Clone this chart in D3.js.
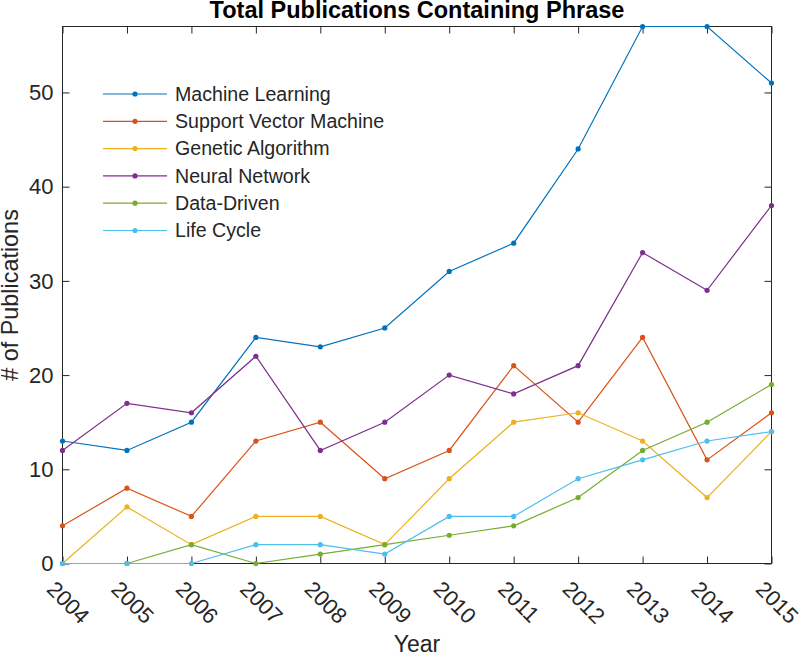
<!DOCTYPE html>
<html><head><meta charset="utf-8">
<script src="https://cdn.jsdelivr.net/npm/d3@7"></script>
<style>body{margin:0;background:#fff}svg{display:block}text{font-family:"Liberation Sans",Arial,Helvetica,sans-serif;fill:#262626}</style>
</head><body><svg id="c" width="800" height="655"></svg>
<script>
const years = [2004,2005,2006,2007,2008,2009,2010,2011,2012,2013,2014,2015];
const seriesNames = ["Machine Learning","Support Vector Machine","Genetic Algorithm","Neural Network","Data-Driven","Life Cycle"];
const machineLearning = [13,12,15,24,23,25,31,34,44,57,57,51];
const supportVector = [4,8,5,13,15,9,12,21,15,24,11,16];
const geneticAlgorithm = [0,6,2,5,5,2,9,15,16,13,7,14];
const neuralNetwork = [12,17,16,22,12,15,20,18,21,33,29,38];
const dataDriven = [0,0,2,0,1,2,3,4,7,12,15,19];
const lifeCycle = [0,0,0,2,2,1,5,5,9,11,13,14];
const yTicks = [0,10,20,30,40,50];
const colors = ["#0072BD","#D95319","#EDB120","#7E2F8E","#77AC30","#4DBEEE"];
const allSeries = [machineLearning,supportVector,geneticAlgorithm,neuralNetwork,dataDriven,lifeCycle];

const svg = d3.select("#c");
const L=62.5,R=771.5,T=26.5,B=563.5;
const x = d3.scaleLinear().domain([2004,2015]).range([L,R]);
const y = d3.scaleLinear().domain([0,57]).range([B,T]);
const ax="#262626";

svg.append("rect").attr("x",L).attr("y",T).attr("width",R-L).attr("height",B-T).attr("fill","none").attr("stroke",ax).attr("stroke-width",1);

const tl=7;
const xa = d3.axisBottom(x).tickValues(years).tickSize(-tl).tickFormat("");
const xt = d3.axisTop(x).tickValues(years).tickSize(-tl).tickFormat("");
const ya = d3.axisLeft(y).tickValues(yTicks).tickSize(-tl).tickFormat("");
const yr = d3.axisRight(y).tickValues(yTicks).tickSize(-tl).tickFormat("");
[[xa,`translate(0,${B})`],[xt,`translate(0,${T})`],[ya,`translate(${L},0)`],[yr,`translate(${R},0)`]].forEach(([a,t])=>{
  const g=svg.append("g").attr("transform",t).call(a);
  g.select(".domain").remove();
  g.selectAll("line").attr("stroke",ax);
});

svg.append("g").selectAll("text").data(yTicks).join("text")
  .attr("x",L-9).attr("y",d=>y(d)).attr("dy","0.35em").attr("text-anchor","end")
  .attr("font-size",22).text(d=>d);

svg.append("g").selectAll("text").data(years).join("text")
  .attr("transform",d=>`translate(${x(d)-17},${B+27}) rotate(45)`)
  .attr("font-size",22).text(d=>d);

svg.append("text").attr("x",(L+R)/2).attr("y",18).attr("text-anchor","middle").attr("font-size",23.5).attr("font-weight","bold").style("fill","#000").text("Total Publications Containing Phrase");
svg.append("text").attr("x",(L+R)/2).attr("y",652).attr("text-anchor","middle").attr("font-size",23).text("Year");
svg.append("text").attr("transform",`translate(18,${(T+B)/2}) rotate(-90)`).attr("text-anchor","middle").attr("font-size",23.4).text("# of Publications");

const line = d3.line().x((d,i)=>x(years[i])).y(d=>y(d));
allSeries.forEach((s,k)=>{
  const g=svg.append("g");
  g.append("path").attr("d",line(s)).attr("fill","none").attr("stroke",colors[k]).attr("stroke-width",1.2);
  g.selectAll("circle").data(s).join("circle").attr("cx",(d,i)=>x(years[i])).attr("cy",d=>y(d)).attr("r",2.6).attr("fill",colors[k]);
});

const lg=svg.append("g");
seriesNames.forEach((n,k)=>{
  const yy=94+k*27.3;
  lg.append("line").attr("x1",103).attr("x2",167).attr("y1",yy).attr("y2",yy).attr("stroke",colors[k]).attr("stroke-width",1.2);
  lg.append("circle").attr("cx",135).attr("cy",yy).attr("r",2.6).attr("fill",colors[k]);
  lg.append("text").attr("x",175).attr("y",yy).attr("dy","0.35em").attr("font-size",19.6).text(n);
});
</script></body></html>
